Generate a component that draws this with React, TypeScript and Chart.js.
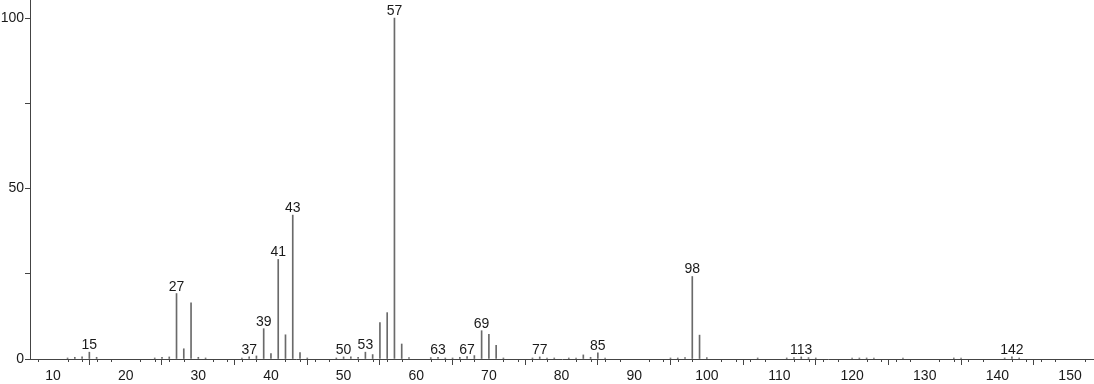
import React, { useEffect, useRef } from "react";
import { Chart, registerables } from "chart.js";

Chart.register(...registerables);

const mz: number[] = [
  12, 13, 14, 15, 16, 24, 25, 26, 27, 28, 29, 30, 31, 36, 37, 38, 39, 40, 41, 42, 43, 44, 45,
  49, 50, 51, 52, 53, 54, 55, 56, 57, 58, 59, 62, 63, 64, 65, 66, 67, 68, 69, 70, 71, 72,
  76, 77, 78, 79, 81, 82, 83, 84, 85, 86, 95, 96, 97, 98, 99, 100, 107, 111, 112, 113, 114,
  115, 120, 121, 122, 123, 127, 134, 135, 141, 142, 143,
];
const intensity: number[] = [
  0.3, 0.5, 0.6, 2.0, 0.5, 0.3, 0.5, 0.6, 19.2, 3.0, 16.5, 0.5, 0.3, 0.3, 0.6, 0.9, 8.9, 1.6,
  29.2, 7.1, 42.2, 1.9, 0.3, 0.3, 0.6, 0.6, 0.5, 2.0, 1.3, 10.7, 13.6, 100, 4.4, 0.4, 0.4, 0.5,
  0.3, 0.3, 0.5, 0.7, 1.0, 8.3, 7.2, 4.0, 0.3, 0.3, 0.6, 0.3, 0.3, 0.3, 0.3, 1.2, 0.5, 1.8, 0.3,
  0.3, 0.3, 0.4, 24.2, 7.0, 0.4, 0.3, 0.3, 0.4, 0.6, 0.4, 0.3, 0.3, 0.3, 0.3, 0.3, 0.3, 0.3,
  0.3, 0.3, 0.6, 0.3,
];
const labeledPeaks: number[] = [15, 27, 37, 39, 41, 43, 50, 53, 57, 63, 67, 69, 77, 85, 98, 113, 142];

const xMin = 6.83;
const xMax = 153.3;
const yMax = 105.3;
const FONT = "'Liberation Sans', Arial, sans-serif";

const peakLabelPlugin = {
  id: "peakLabels",
  afterDatasetsDraw(chart: any) {
    const ctx = chart.ctx;
    const meta = chart.getDatasetMeta(0);
    ctx.save();
    ctx.font = `14px ${FONT}`;
    ctx.fillStyle = "#1a1a1a";
    ctx.textAlign = "center";
    ctx.textBaseline = "alphabetic";
    meta.data.forEach((el: any, i: number) => {
      if (labeledPeaks.includes(mz[i])) {
        ctx.fillText(String(mz[i]), el.x, el.y - 3);
      }
    });
    ctx.restore();
  },
};

const minorTickPlugin = {
  id: "minorTicks",
  afterDraw(chart: any) {
    const ctx = chart.ctx;
    const xs = chart.scales.x;
    const bottom = chart.chartArea.bottom;
    ctx.save();
    ctx.strokeStyle = "#444";
    ctx.lineWidth = 1;
    for (let v = 8; v <= 152; v += 2) {
      if (v % 10 === 0) continue;
      const px = Math.round(xs.getPixelForValue(v)) + 0.5;
      ctx.beginPath();
      ctx.moveTo(px, bottom);
      ctx.lineTo(px, bottom + 3);
      ctx.stroke();
    }
    ctx.restore();
  },
};

export default function App() {
  const ref = useRef<HTMLCanvasElement | null>(null);
  useEffect(() => {
    document.body.style.margin = "0";
    if (!ref.current) return;
    const chart = new Chart(ref.current, {
      type: "bar",
      data: {
        datasets: [
          {
            data: mz.map((m, i) => ({ x: m, y: intensity[i] })),
            backgroundColor: "#6a6a6a",
            borderWidth: 0,
            barThickness: 1,
          } as any,
        ],
      },
      options: {
        animation: false,
        responsive: false,
        maintainAspectRatio: false,
        layout: { autoPadding: false, padding: { top: 0, right: 0, left: 0, bottom: 0 } } as any,
        plugins: { legend: { display: false }, tooltip: { enabled: false } },
        scales: {
          x: {
            type: "linear",
            min: xMin,
            max: xMax,
            offset: false,
            grid: { display: true, drawOnChartArea: false, tickLength: 6, color: "#444", tickColor: "#444" },
            border: { display: true, color: "#444", width: 1 },
            ticks: {
              stepSize: 10,
              includeBounds: false,
              color: "#1a1a1a",
              font: { family: FONT, size: 14 },
              padding: 3,
              maxRotation: 0,
              autoSkip: false,
            },
            afterFit: (s: any) => {
              s.height = 25;
              s.paddingLeft = 0;
              s.paddingRight = 0;
            },
          },
          y: {
            min: 0,
            max: yMax,
            grid: { display: true, drawOnChartArea: false, tickLength: 5, color: "#444", tickColor: "#444" },
            border: { display: true, color: "#444", width: 1 },
            ticks: {
              stepSize: 25,
              includeBounds: false,
              color: "#1a1a1a",
              font: { family: FONT, size: 14 },
              padding: 1,
              callback: (v: any) => (Number(v) % 50 === 0 ? String(v) : ""),
            },
            afterFit: (s: any) => {
              s.width = 30;
              s.paddingTop = 0;
              s.paddingBottom = 0;
            },
          },
        },
      },
      plugins: [peakLabelPlugin, minorTickPlugin],
    });
    return () => chart.destroy();
  }, []);
  return (
    <div style={{ width: 1094, height: 384 }}>
      <canvas ref={ref} width={1094} height={384} style={{ display: "block" }} />
    </div>
  );
}
